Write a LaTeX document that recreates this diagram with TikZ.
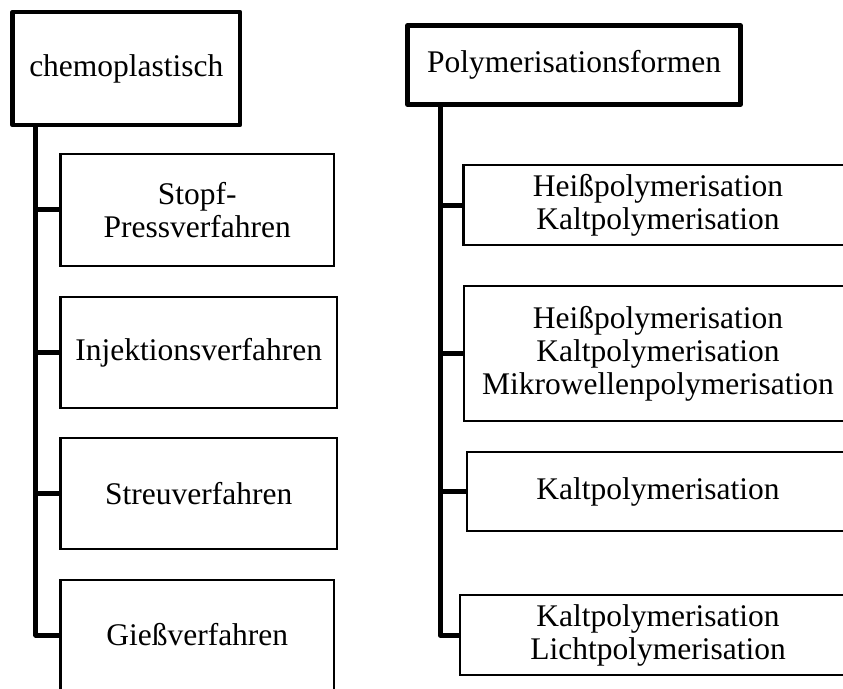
\documentclass[tikz,border=0pt]{standalone}
\usepackage{fontspec}
\setmainfont{Liberation Serif}
\begin{document}
\begin{tikzpicture}[x=1pt,y=-1pt,
  every node/.style={font=\fontsize{31.5}{33}\selectfont, align=center, inner sep=0pt, outer sep=0pt},
  headbox/.style={draw, line width=4.7pt, line join=round},
  childbox/.style={draw, line width=2.3pt},
  trunk/.style={line width=5pt, line join=round},
  branch/.style={line width=5pt}]
\useasboundingbox (0,0) rectangle (843,688);
\clip (0,0) rectangle (843,688);
% left column
\node[headbox, minimum width=227.3pt, minimum height=113pt] (lh) at (126.35,68.5) {chemoplastisch};
\node[childbox, minimum width=273.5pt, minimum height=112.3pt] (l1) at (197.25,209.85) {Stopf-\\Pressverfahren};
\node[childbox, minimum width=276.5pt, minimum height=111pt] (l2) at (198.75,352.5) {Injektionsverfahren};
\node[childbox, minimum width=276.5pt, minimum height=111pt] (l3) at (198.75,493.5) {Streuverfahren};
\node[childbox, minimum width=273.5pt, minimum height=110pt] (l4) at (197.25,635) {Gießverfahren};
\coordinate (tL) at (35.8,125);
\draw[trunk] (tL) |- (l4.west);
\foreach \n in {l1,l2,l3}{\draw[branch] (tL |- \n.west) -- (\n.west);}
% right column
\node[headbox, minimum width=333pt, minimum height=79pt] (rh) at (574,65) {Polymerisationsformen};
\node[childbox, minimum width=389pt, minimum height=80pt] (r1) at (658,205) {Heißpolymerisation\\Kaltpolymerisation};
\node[childbox, minimum width=388pt, minimum height=135pt] (r2) at (658,353.5) {Heißpolymerisation\\Kaltpolymerisation\\Mikrowellenpolymerisation};
\node[childbox, minimum width=382pt, minimum height=79pt] (r3) at (658,491.5) {Kaltpolymerisation};
\node[childbox, minimum width=396pt, minimum height=80pt] (r4) at (658,635) {Kaltpolymerisation\\Lichtpolymerisation};
\coordinate (tR) at (440,104.5);
\draw[trunk] (tR) |- (r4.west);
\foreach \n in {r1,r2,r3}{\draw[branch] (tR |- \n.west) -- (\n.west);}
\end{tikzpicture}
\end{document}
